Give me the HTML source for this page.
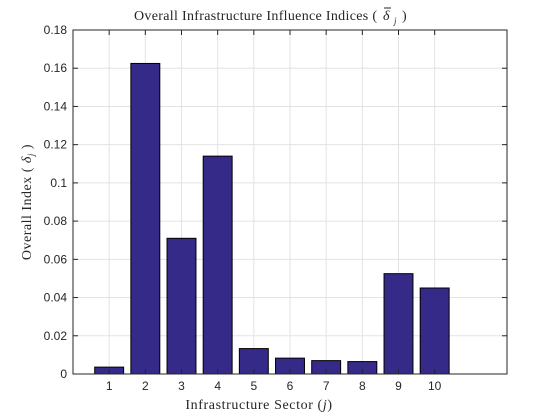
<!DOCTYPE html>
<html><head><meta charset="utf-8"><style>
body{margin:0;background:#fff;}
svg{display:block;font-family:"Liberation Sans",sans-serif;}
.serif{font-family:"Liberation Serif",serif;}
</style></head><body>
<svg id="chart" width="560" height="420">
<rect width="560" height="420" fill="#fff"/>
<g id="grid"></g><g id="bars"></g><g id="axes"></g>
<text class="serif" x="134" y="20" textLength="243" lengthAdjust="spacing" font-size="14" fill="#262626">Overall Infrastructure Influence Indices (</text>
<text class="serif" x="383" y="20" font-size="14" fill="#262626" font-style="italic">δ</text>
<line x1="384" x2="391" y1="8" y2="8" stroke="#262626" stroke-width="1"/>
<text class="serif" x="394" y="24" font-size="9" fill="#262626" font-style="italic">j</text>
<text class="serif" x="402" y="20" font-size="14" fill="#262626">)</text>
<text class="serif" x="259" y="409" text-anchor="middle" letter-spacing="0.6" font-size="14" fill="#262626">Infrastructure Sector (<tspan font-style="italic">j</tspan>)</text>
<text class="serif" transform="translate(31,202) rotate(-90)" text-anchor="middle" font-size="14" letter-spacing="0.5" fill="#262626">Overall Index ( <tspan font-style="italic">δ</tspan><tspan font-size="9" font-style="italic" dy="3">j</tspan><tspan dy="-3"> )</tspan></text>
</svg>
<script>
const categories=[1,2,3,4,5,6,7,8,9,10];
const values=[0.0036,0.1625,0.071,0.114,0.0133,0.0083,0.0070,0.0065,0.0525,0.045];
const yTicks=[0,0.02,0.04,0.06,0.08,0.1,0.12,0.14,0.16,0.18];
const yTickLabels=["0","0.02","0.04","0.06","0.08","0.1","0.12","0.14","0.16","0.18"];
const L=73,R=507,T=30,B=374,xMin=0,xMax=12,yMin=0,yMax=0.18;
const xs=v=>L+(v-xMin)/(xMax-xMin)*(R-L);
const ys=v=>B-(v-yMin)/(yMax-yMin)*(B-T);
const NS="http://www.w3.org/2000/svg";
function mk(tag,attrs,parent){const e=document.createElementNS(NS,tag);for(const k in attrs)e.setAttribute(k,attrs[k]);parent.appendChild(e);return e;}
const grid=document.getElementById('grid'),bars=document.getElementById('bars'),axes=document.getElementById('axes');
yTicks.forEach((t,i)=>{
  const g=mk('line',{x1:L,x2:R,y1:ys(t),y2:ys(t),stroke:'#e3e3e3','stroke-width':1},grid);
  
  
  mk('line',{x1:L,x2:L+5,y1:ys(t),y2:ys(t),stroke:'#262626'},axes);
  mk('line',{x1:R,x2:R-5,y1:ys(t),y2:ys(t),stroke:'#262626'},axes);
  const tx=mk('text',{x:L-6,y:ys(t)+4,'text-anchor':'end','font-size':12,fill:'#262626'},axes);
  tx.textContent=yTickLabels[i];
  
  
});
categories.forEach((c,i)=>{
  const g=mk('line',{x1:xs(c),x2:xs(c),y1:T,y2:B,stroke:'#e3e3e3'},grid);
  
  
  mk('line',{x1:xs(c),x2:xs(c),y1:B,y2:B-5,stroke:'#262626'},axes);
  mk('line',{x1:xs(c),x2:xs(c),y1:T,y2:T+5,stroke:'#262626'},axes);
  const tx=mk('text',{x:xs(c),y:B+16,'text-anchor':'middle','font-size':12,fill:'#262626'},axes);
  tx.textContent=String(c);
  
  
  const w=(xs(1)-xs(0))*0.8;
  const b=mk('rect',{x:xs(c)-w/2,y:ys(values[i]),width:w,height:ys(0)-ys(values[i]),fill:'#352a87',stroke:'#000','stroke-width':1},bars);
  
  
});
const box=mk('rect',{x:L,y:T,width:R-L,height:B-T,fill:'none',stroke:'#262626','stroke-width':1},axes);


</script>
</body></html>
